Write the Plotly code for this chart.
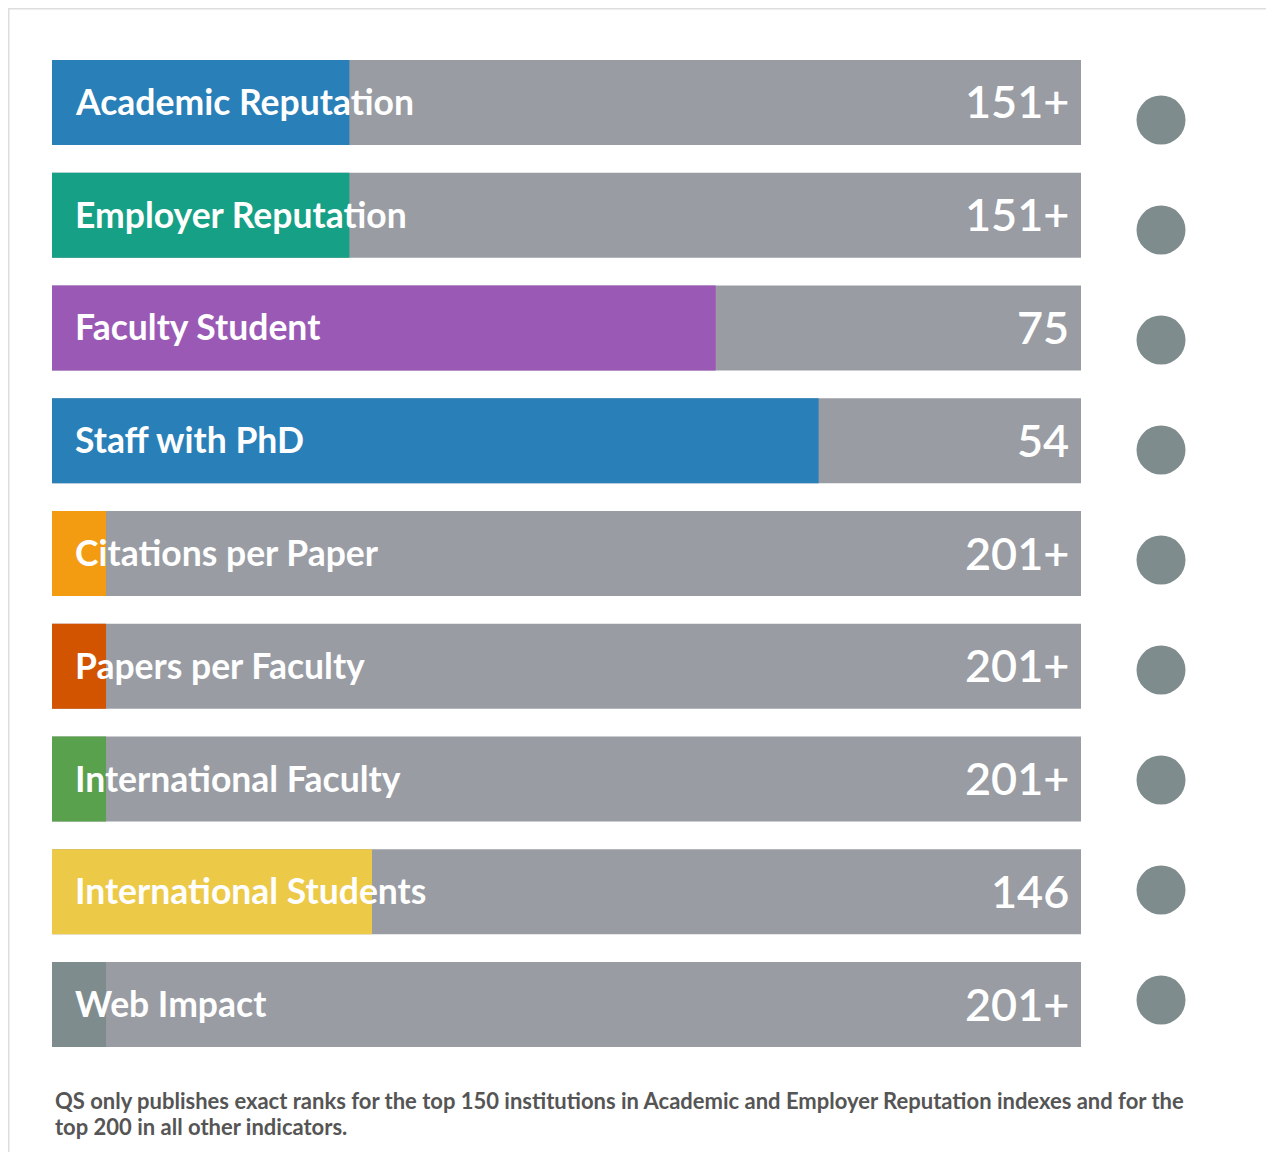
import plotly.graph_objects as go

# ---- data ----
indicators = ["Academic Reputation", "Employer Reputation", "Faculty Student", "Staff with PhD",
              "Citations per Paper", "Papers per Faculty", "International Faculty",
              "International Students", "Web Impact"]
rank_labels = ["151+", "151+", "75", "54", "201+", "201+", "201+", "146", "201+"]
scores = [28.9, 28.9, 64.5, 74.5, 5.25, 5.25, 5.25, 31.1, 5.25]   # filled share of bar (0-100)
full_scale = [100] * len(indicators)
bar_colors = ["#2980b9", "#16a085", "#9b59b6", "#2980b9", "#f39c12", "#d35400",
              "#5aa14e", "#edc948", "#7f8c8d"]
marker_x = [0] * len(indicators)
footnote_lines = ["QS only publishes exact ranks for the top 150 institutions in Academic and Employer "
                  "Reputation indexes and for the",
                  "top 200 in all other indicators."]

W, H = 1258, 1144
FONT = "Lato, 'Open Sans', sans-serif"

fig = go.Figure()
fig.add_trace(go.Bar(x=full_scale, y=indicators, orientation="h", marker_color="#999ca3",
                     marker_line_width=0, width=0.754, hoverinfo="skip", showlegend=False))
fig.add_trace(go.Bar(x=scores, y=indicators, orientation="h", marker_color=bar_colors,
                     marker_line_width=0, width=0.754, showlegend=False))
fig.add_trace(go.Scatter(x=marker_x, y=indicators, xaxis="x2", yaxis="y2", mode="markers",
                         marker=dict(size=49, color="#7f8c8d", line_width=0),
                         hoverinfo="skip", showlegend=False))

annotations = []
for name, rank in zip(indicators, rank_labels):
    annotations.append(dict(x=0, y=name, xref="x", yref="y", text=name, showarrow=False,
                            xanchor="left", yanchor="middle", xshift=21, yshift=1,
                            font=dict(family=FONT, size=35.5, color="white", weight="bold")))
    annotations.append(dict(x=100, y=name, xref="x", yref="y", text=rank, showarrow=False,
                            xanchor="right", yanchor="middle", xshift=-10, yshift=1,
                            font=dict(family=FONT, size=45, color="white", weight=600)))
for i, line in enumerate(footnote_lines):
    annotations.append(dict(x=45 / W, y=1 - (1092 + 26 * i) / H, xref="paper", yref="paper",
                            text=line, showarrow=False, xanchor="left", yanchor="middle",
                            align="left",
                            font=dict(family=FONT, size=22, color="#555555", weight="bold")))

fig.update_layout(
    width=W, height=H, margin=dict(l=0, r=0, t=0, b=0),
    paper_bgcolor="white", plot_bgcolor="white", barmode="overlay",
    xaxis=dict(domain=[44 / W, 1073 / W], range=[0, 100], visible=False, fixedrange=True),
    yaxis=dict(domain=[1 - 1052.9 / H, 1 - 38.1 / H], range=[8.5, -0.5], visible=False),
    xaxis2=dict(domain=[1113 / W, 1193 / W], range=[-1, 1], visible=False, anchor="y2"),
    yaxis2=dict(domain=[1 - 1047 / H, 1 - 57 / H], range=[8.5, -0.5], visible=False,
                anchor="x2", type="category", categoryorder="array", categoryarray=indicators),
    annotations=annotations,
    shapes=[
        dict(type="line", xref="paper", yref="paper", x0=0, x1=1, y0=1, y1=1,
             line=dict(color="#dddddd", width=3)),
        dict(type="line", xref="paper", yref="paper", x0=0, x1=0, y0=0, y1=1,
             line=dict(color="#dddddd", width=3)),
    ],
)

fig.write_html("out.html", config={"displayModeBar": False})
